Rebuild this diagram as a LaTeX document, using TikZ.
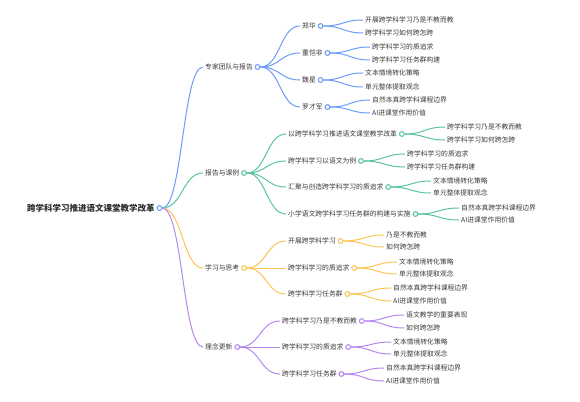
\documentclass[tikz,border=0pt]{standalone}
\usepackage{fontspec}
\newfontfamily\cjk{Noto Sans CJK SC}
\usetikzlibrary{calc}
\definecolor{cblue}{HTML}{6E9CF7}
\definecolor{cgreen}{HTML}{5CC59F}
\definecolor{corange}{HTML}{FCC552}
\definecolor{cpurple}{HTML}{B687F0}
\definecolor{tgray}{HTML}{3A3A3A}
\tikzset{
  txt/.style={font=\cjk\fontsize{6.8}{8}\selectfont, text=tgray, inner sep=0pt, anchor=west},
  roottxt/.style={font=\cjk\bfseries\fontsize{8.5}{10}\selectfont, text=tgray!80!black, inner sep=0pt, anchor=west},
  dot/.style={circle, minimum size=4.6pt, inner sep=0pt, line width=0.9pt, fill=white},
  link/.style={line width=1pt},
}
\newcommand\mnode[5]{%
  \node[txt] (#1) at (#3,#4) {#5};
  \node[dot, draw=#2] (#1c) at ([xshift=4.6pt]#1.east) {};}
\newcommand\mleaf[4]{%
  \node[txt] (#1) at (#2,#3) {#4};}
\newcommand\mconn[3]{%
  \draw[link,#1] let \p1=(#2c.east), \p2=([xshift=-2pt]#3.west) in
    (\p1) .. controls ({0.5*\x1+0.5*\x2},\y1) and ({0.5*\x1+0.5*\x2},\y2) .. (\p2);}
\begin{document}
\begin{tikzpicture}[x=1pt,y=-1pt]
\useasboundingbox[fill=white] (0,0) rectangle (580,401);
% root
\node[roottxt] (R) at (27,208) {跨学科学习推进语文课堂教学改革};
\node[dot, draw=cblue] (Rc) at ([xshift=4.6pt]R.east) {};
% level 1
\mnode{A}{cblue}{205}{67}{专家团队与报告}
\mnode{B}{cgreen}{205}{173}{报告与课例}
\mnode{C}{corange}{205}{268}{学习与思考}
\mnode{D}{cpurple}{205}{347}{理念更新}
% blue level 2
\mnode{A1}{cblue}{302}{26}{郑华}
\mnode{A2}{cblue}{302}{53}{董恺非}
\mnode{A3}{cblue}{302}{80}{魏星}
\mnode{A4}{cblue}{302}{107}{罗才军}
% blue level 3
\mleaf{A11}{365}{20}{开展跨学科学习乃是不教而教}
\mleaf{A12}{365}{33}{跨学科学习如何跨怎跨}
\mleaf{A21}{372}{47}{跨学科学习的质追求}
\mleaf{A22}{372}{60}{跨学科学习任务群构建}
\mleaf{A31}{365}{73}{文本情境转化策略}
\mleaf{A32}{365}{87}{单元整体提取观念}
\mleaf{A41}{372}{100}{自然本真跨学科课程边界}
\mleaf{A42}{372}{113}{AI进课堂作用价值}
% green level 2
\mnode{B1}{cgreen}{288}{134}{以跨学科学习推进语文课堂教学改革}
\mnode{B2}{cgreen}{288}{161}{跨学科学习以语文为例}
\mnode{B3}{cgreen}{288}{187}{汇聚与创造跨学科学习的质追求}
\mnode{B4}{cgreen}{288}{214}{小学语文跨学科学习任务群的构建与实施}
% green level 3
\mleaf{B11}{447}{127}{跨学科学习乃是不教而教}
\mleaf{B12}{447}{140}{跨学科学习如何跨怎跨}
\mleaf{B21}{407}{154}{跨学科学习的质追求}
\mleaf{B22}{407}{167}{跨学科学习任务群构建}
\mleaf{B31}{433}{181}{文本情境转化策略}
\mleaf{B32}{433}{193}{单元整体提取观念}
\mleaf{B41}{461}{208}{自然本真跨学科课程边界}
\mleaf{B42}{461}{220}{AI进课堂作用价值}
% orange level 2
\mnode{C1}{corange}{288}{241}{开展跨学科学习}
\mnode{C2}{corange}{288}{268}{跨学科学习的质追求}
\mnode{C3}{corange}{288}{294}{跨学科学习任务群}
% orange level 3
\mleaf{C11}{386}{235}{乃是不教而教}
\mleaf{C12}{386}{247}{如何跨怎跨}
\mleaf{C21}{399}{262}{文本情境转化策略}
\mleaf{C22}{399}{274}{单元整体提取观念}
\mleaf{C31}{393}{288}{自然本真跨学科课程边界}
\mleaf{C32}{393}{301}{AI进课堂作用价值}
% purple level 2
\mnode{D1}{cpurple}{282}{321}{跨学科学习乃是不教而教}
\mnode{D2}{cpurple}{282}{347}{跨学科学习的质追求}
\mnode{D3}{cpurple}{282}{374}{跨学科学习任务群}
% purple level 3
\mleaf{D11}{406}{315}{语文教学的重要表现}
\mleaf{D12}{406}{328}{如何跨怎跨}
\mleaf{D21}{393}{342}{文本情境转化策略}
\mleaf{D22}{393}{354}{单元整体提取观念}
\mleaf{D31}{386}{368}{自然本真跨学科课程边界}
\mleaf{D32}{386}{381}{AI进课堂作用价值}
% connectors
\mconn{cblue}{R}{A}
\mconn{cgreen}{R}{B}
\mconn{corange}{R}{C}
\mconn{cpurple}{R}{D}
\foreach \i in {1,...,4}{\mconn{cblue}{A}{A\i}\mconn{cgreen}{B}{B\i}}
\foreach \i in {1,...,4}{\mconn{cblue}{A\i}{A\i1}\mconn{cblue}{A\i}{A\i2}\mconn{cgreen}{B\i}{B\i1}\mconn{cgreen}{B\i}{B\i2}}
\foreach \i in {1,...,3}{\mconn{corange}{C}{C\i}\mconn{cpurple}{D}{D\i}}
\foreach \i in {1,...,3}{\mconn{corange}{C\i}{C\i1}\mconn{corange}{C\i}{C\i2}\mconn{cpurple}{D\i}{D\i1}\mconn{cpurple}{D\i}{D\i2}}
% redraw dots on top of lines
\foreach \n/\c in {R/cblue,A/cblue,B/cgreen,C/corange,D/cpurple,A1/cblue,A2/cblue,A3/cblue,A4/cblue,B1/cgreen,B2/cgreen,B3/cgreen,B4/cgreen,C1/corange,C2/corange,C3/corange,D1/cpurple,D2/cpurple,D3/cpurple}
  {\node[dot, draw=\c] at (\n c) {};}
\end{tikzpicture}
\end{document}
